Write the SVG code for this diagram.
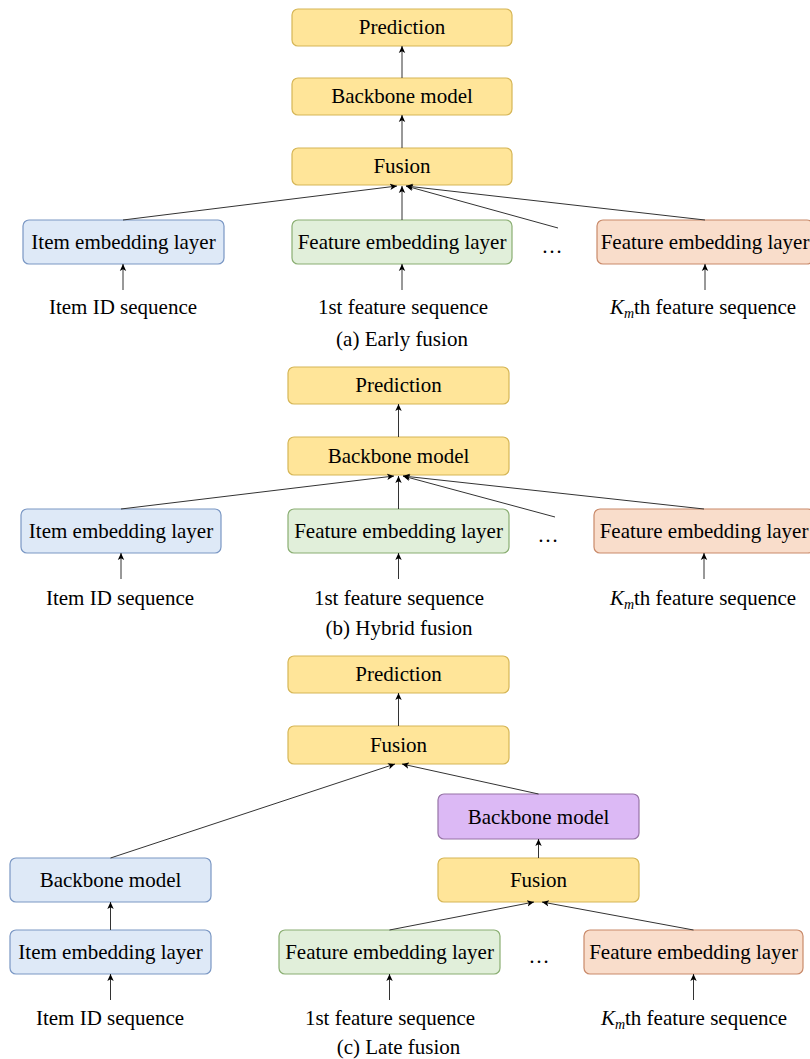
<svg xmlns="http://www.w3.org/2000/svg" width="810" height="1059" viewBox="0 0 810 1059">
<style>
text{font-family:"Liberation Serif","Times New Roman",serif;font-size:21px;fill:#000;text-anchor:middle}
.y{fill:#FFE599;stroke:#D6B656;stroke-width:1.2}
.b{fill:#DEE9F7;stroke:#7A97C4;stroke-width:1.2}
.g{fill:#E1EFDA;stroke:#8AAE72;stroke-width:1.2}
.o{fill:#F9DDCB;stroke:#C98A6A;stroke-width:1.2}
.p{fill:#DCB9F5;stroke:#9673A6;stroke-width:1.2}
.c line{stroke:#333;stroke-width:1;marker-end:url(#ah)}
.c line.n{marker-end:none}
.it{font-style:italic}
</style>
<defs>
<marker id="ah" markerUnits="userSpaceOnUse" markerWidth="8" markerHeight="8" viewBox="0 0 8 8" refX="7" refY="4" orient="auto">
<path d="M0,0.8 L7,4 L0,7.2 L1.8,4 Z" fill="#000"/>
</marker>
</defs>
<rect width="810" height="1059" fill="#fff"/>

<!-- (a) Early fusion -->
<g id="a-prediction"><rect class="y" x="292" y="9" width="220" height="37" rx="6"/><text x="402" y="34">Prediction</text></g>
<g id="a-backbone"><rect class="y" x="292" y="78" width="220" height="37" rx="6"/><text x="402" y="103">Backbone model</text></g>
<g id="a-fusion"><rect class="y" x="292" y="148" width="220" height="37" rx="6"/><text x="402" y="173">Fusion</text></g>
<g id="a-item-emb"><rect class="b" x="23" y="220" width="201" height="44" rx="6"/><text x="123.5" y="249">Item embedding layer</text></g>
<g id="a-feat-emb1"><rect class="g" x="292" y="220" width="220" height="44" rx="6"/><text x="402" y="249">Feature embedding layer</text></g>
<g id="a-dots"><text x="552" y="253">…</text></g>
<g id="a-feat-embk"><rect class="o" x="597" y="220" width="216" height="44" rx="6"/><text x="705" y="249">Feature embedding layer</text></g>
<g id="a-seq-item"><text x="123" y="314">Item ID sequence</text></g>
<g id="a-seq-1"><text x="403" y="314">1st feature sequence</text></g>
<g id="a-seq-k"><text x="703" y="314"><tspan class="it">K</tspan><tspan class="it" font-size="14" dy="4">m</tspan><tspan dy="-4">th feature sequence</tspan></text></g>
<g id="a-caption"><text x="402" y="346">(a) Early fusion</text></g>

<!-- (b) Hybrid fusion -->
<g id="b-prediction"><rect class="y" x="288" y="367" width="221" height="37" rx="6"/><text x="398.5" y="392">Prediction</text></g>
<g id="b-backbone"><rect class="y" x="288" y="437" width="221" height="38" rx="6"/><text x="398.5" y="463">Backbone model</text></g>
<g id="b-item-emb"><rect class="b" x="21" y="509" width="200" height="44" rx="6"/><text x="121" y="538">Item embedding layer</text></g>
<g id="b-feat-emb1"><rect class="g" x="288" y="509" width="221" height="44" rx="6"/><text x="398.5" y="538">Feature embedding layer</text></g>
<g id="b-dots"><text x="548" y="542">…</text></g>
<g id="b-feat-embk"><rect class="o" x="594" y="509" width="220" height="44" rx="6"/><text x="704" y="538">Feature embedding layer</text></g>
<g id="b-seq-item"><text x="120" y="605">Item ID sequence</text></g>
<g id="b-seq-1"><text x="399" y="605">1st feature sequence</text></g>
<g id="b-seq-k"><text x="703" y="605"><tspan class="it">K</tspan><tspan class="it" font-size="14" dy="4">m</tspan><tspan dy="-4">th feature sequence</tspan></text></g>
<g id="b-caption"><text x="399" y="635">(b) Hybrid fusion</text></g>

<!-- (c) Late fusion -->
<g id="c-prediction"><rect class="y" x="288" y="656" width="221" height="37" rx="6"/><text x="398.5" y="681">Prediction</text></g>
<g id="c-fusion"><rect class="y" x="288" y="726" width="221" height="38" rx="6"/><text x="398.5" y="752">Fusion</text></g>
<g id="c-backbone-feat"><rect class="p" x="438" y="794" width="201" height="45" rx="6"/><text x="538.5" y="824">Backbone model</text></g>
<g id="c-fusion-feat"><rect class="y" x="438" y="858" width="201" height="44" rx="6"/><text x="538.5" y="887">Fusion</text></g>
<g id="c-backbone-item"><rect class="b" x="10" y="858" width="201" height="44" rx="6"/><text x="110.5" y="887">Backbone model</text></g>
<g id="c-item-emb"><rect class="b" x="10" y="930" width="201" height="44" rx="6"/><text x="110.5" y="959">Item embedding layer</text></g>
<g id="c-feat-emb1"><rect class="g" x="279" y="930" width="221" height="44" rx="6"/><text x="389.5" y="959">Feature embedding layer</text></g>
<g id="c-dots"><text x="539" y="963">…</text></g>
<g id="c-feat-embk"><rect class="o" x="584" y="930" width="219" height="44" rx="6"/><text x="693.5" y="959">Feature embedding layer</text></g>
<g id="c-seq-item"><text x="110" y="1025">Item ID sequence</text></g>
<g id="c-seq-1"><text x="390" y="1025">1st feature sequence</text></g>
<g id="c-seq-k"><text x="694" y="1025"><tspan class="it">K</tspan><tspan class="it" font-size="14" dy="4">m</tspan><tspan dy="-4">th feature sequence</tspan></text></g>
<g id="c-caption"><text x="398.5" y="1054">(c) Late fusion</text></g>

<g id="connectors" class="c">
<!-- a -->
<line x1="402" y1="78" x2="402" y2="46"/>
<line x1="402" y1="148" x2="402" y2="115"/>
<line x1="123" y1="220" x2="397" y2="186"/>
<line x1="402" y1="220" x2="402" y2="186"/>
<line x1="558" y1="228" x2="406" y2="186"/>
<line x1="705" y1="220" x2="406" y2="186"/>
<line x1="123" y1="290" x2="123" y2="264"/>
<line x1="402" y1="290" x2="402" y2="264"/>
<line x1="705" y1="290" x2="705" y2="264"/>
<!-- b -->
<line x1="398.5" y1="437" x2="398.5" y2="404"/>
<line x1="121" y1="509" x2="394" y2="476"/>
<line x1="398.5" y1="509" x2="398.5" y2="476"/>
<line x1="555" y1="517" x2="403" y2="476"/>
<line x1="704" y1="509" x2="403" y2="476"/>
<line x1="121" y1="579" x2="121" y2="553"/>
<line x1="398.5" y1="579" x2="398.5" y2="553"/>
<line x1="704" y1="579" x2="704" y2="553"/>
<!-- c -->
<line x1="398.5" y1="726" x2="398.5" y2="693"/>
<line x1="110.5" y1="858" x2="395" y2="764"/>
<line x1="538.5" y1="794" x2="402" y2="764"/>
<line x1="538.5" y1="858" x2="538.5" y2="839"/>
<line x1="110.5" y1="930" x2="110.5" y2="902"/>
<line x1="389.5" y1="930" x2="534" y2="902"/>
<line x1="693.5" y1="930" x2="542" y2="902"/>
<line x1="110.5" y1="1000" x2="110.5" y2="974"/>
<line x1="389.5" y1="1000" x2="389.5" y2="974"/>
<line x1="693.5" y1="1000" x2="693.5" y2="974"/>
</g>
</svg>
